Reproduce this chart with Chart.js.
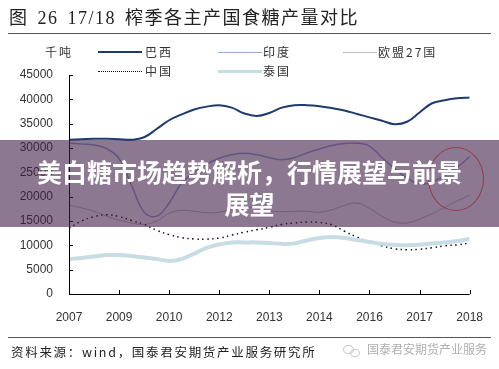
<!DOCTYPE html>
<html><head><meta charset="utf-8">
<script src="https://cdn.jsdelivr.net/npm/chart.js@4.4.1/dist/chart.umd.min.js"></script>
<style>
html,body{margin:0;padding:0;background:#fff;}
#wrap{position:relative;width:499px;height:369px;overflow:hidden;background:#fff;font-family:"Liberation Serif","Noto Sans CJK SC",serif;}
canvas{position:absolute;left:0;top:0;}
.abs{position:absolute;white-space:nowrap;}
#title{left:9px;top:3px;font-size:18px;color:#222;letter-spacing:1.5px;word-spacing:3px;}
.hr{position:absolute;left:8px;width:483px;height:1px;background:#555;}
.leg{font-size:12px;color:#333;letter-spacing:2px;font-family:"Noto Sans CJK SC",sans-serif;}
.sw{position:absolute;width:44px;height:0;}
#src{left:11px;top:342px;font-size:12.5px;color:#222;letter-spacing:1.7px;font-family:"Noto Sans CJK SC",sans-serif;}
#wm{left:367px;top:340px;font-size:12px;color:#b0b0b0;font-family:"Noto Sans CJK SC",sans-serif;}
#band{position:absolute;left:0;top:140px;width:499px;height:87px;background:rgba(63,30,70,0.6);}
#bandtxt{position:absolute;left:0;top:155px;width:499px;text-align:center;color:#fff;font-weight:bold;font-size:25px;line-height:32px;font-family:"Noto Sans CJK SC",sans-serif;}
#ring{position:absolute;left:428px;top:147px;width:54px;height:62px;border:1px solid rgba(150,40,60,0.75);border-radius:50%;}
</style></head>
<body>
<div id="wrap">
<canvas id="c" width="499" height="369"></canvas>
<div id="title" class="abs">图 26 17/18 榨季各主产国食糖产量对比</div>
<div class="hr" style="top:33px"></div>
<div class="abs leg" style="left:45px;top:43px">千吨</div>
<div class="sw" style="left:98px;top:51px;border-top:2.5px solid #1f3a6e"></div>
<div class="abs leg" style="left:145px;top:43px">巴西</div>
<div class="sw" style="left:218px;top:52px;border-top:1.5px solid #9aa8d8"></div>
<div class="abs leg" style="left:263px;top:43px">印度</div>
<div class="sw" style="left:343px;top:52px;width:34px;border-top:1px solid #bdbdbd"></div>
<div class="abs leg" style="left:378px;top:43px">欧盟27国</div>
<div class="sw" style="left:98px;top:71px;border-top:1.5px dotted #111"></div>
<div class="abs leg" style="left:145px;top:62px">中国</div>
<div class="sw" style="left:218px;top:70px;border-top:3px solid #c8dce4"></div>
<div class="abs leg" style="left:263px;top:62px">泰国</div>
<div class="hr" style="top:337px"></div>
<div id="src" class="abs">资料来源：wind，国泰君安期货产业服务研究所</div>
<div class="abs" style="left:343px;top:345px;width:9px;height:7px;border:1px solid #c8c8c8;border-radius:50%"></div>
<div class="abs" style="left:350px;top:349px;width:8px;height:6px;border:1px solid #c8c8c8;border-radius:50%"></div>
<div id="wm" class="abs">国泰君安期货产业服务</div>
<div id="band"></div>
<div id="ring"></div>
<div id="bandtxt">美白糖市场趋势解析，行情展望与前景<br>展望</div>
</div>
<script>
const years = ['2007','2009','2010','2012','2013','2014','2016','2017','2018'];
const yTicks = [0,5000,10000,15000,20000,25000,30000,35000,40000,45000];
const xPos = [0,0.25,0.5,0.75,1,1.25,1.5,1.75,2,2.25,2.5,2.75,3,3.25,3.5,3.75,4,4.25,4.5,4.75,5,5.25,5.5,5.75,6,6.25,6.5,6.75,7,7.25,7.5,7.75,8];
const brazil = [31700,31800,31900,31900,31800,31700,32200,33900,35700,36900,37900,38500,38800,38300,37100,36600,37200,38300,38800,38800,38600,38200,37700,37000,36300,35600,34900,35400,37300,39200,39800,40200,40400];
const india = [31000,30800,30600,29900,27800,22300,16800,16000,18700,22800,25000,26700,27900,28600,28900,28600,28000,27600,28000,29000,29800,30500,30900,31000,30400,28000,25800,23800,22600,23000,24300,26000,28200];
const eu27 = [18300,17700,17000,16000,15200,14600,14300,15000,16600,17200,17000,16700,16800,17400,17900,17600,17100,16900,17000,17000,16800,17300,18200,18700,17600,16000,14800,14600,15400,16500,17800,19100,20300];
const china = [13500,15000,15900,16300,15900,15100,14300,13100,12200,11600,11300,11300,11500,12100,12700,13200,13700,14300,14600,14800,14700,14200,12900,11700,10700,9900,9300,9100,9200,9500,9900,10100,10500];
const thailand = [7200,7400,7700,8000,8000,7800,7500,7200,6800,7200,8300,9500,10200,10600,10600,10600,10500,10300,10400,11000,11500,11700,11500,11100,10700,10300,10100,10000,10100,10400,10600,10900,11300];

const pts = arr => arr.map((v,i)=>({x:xPos[i], y:v}));

const innerTicks = {
  id:'innerTicks',
  afterDraw(chart){
    const {ctx, chartArea:a, scales:{x, y}} = chart;
    ctx.save();
    ctx.strokeStyle = '#000'; ctx.lineWidth = 1;
    ctx.beginPath();
    ctx.moveTo(a.left+0.5, a.top); ctx.lineTo(a.left+0.5, a.bottom+0.5); ctx.lineTo(a.right, a.bottom+0.5);
    y.ticks.forEach(t=>{ const py=Math.round(y.getPixelForValue(t.value))+0.5; ctx.moveTo(a.left, py); ctx.lineTo(a.left+4, py); });
    x.ticks.forEach(t=>{ const px=Math.round(x.getPixelForValue(t.value))+0.5; ctx.moveTo(px, a.bottom); ctx.lineTo(px, a.bottom-4); });
    ctx.stroke();
    ctx.restore();
  }
};

new Chart(document.getElementById('c'), {
  type:'line',
  data:{ datasets:[
    {label:'泰国', data:pts(thailand), borderColor:'#c8dce4', borderWidth:4, tension:0.4, pointRadius:0},
    {label:'中国', data:pts(china), borderColor:'#111', borderWidth:1.5, borderDash:[1.5,3.5], tension:0.4, pointRadius:0},
    {label:'欧盟27国', data:pts(eu27), borderColor:'#bdbdbd', borderWidth:1, tension:0.4, pointRadius:0},
    {label:'印度', data:pts(india), borderColor:'#9aa8d8', borderWidth:1.5, tension:0.4, pointRadius:0},
    {label:'巴西', data:pts(brazil), borderColor:'#1f3a6e', borderWidth:2, tension:0.4, pointRadius:0}
  ]},
  options:{
    responsive:false, animation:false, devicePixelRatio:1,
    layout:{padding:{left:0, right:26, top:75, bottom:0}},
    plugins:{legend:{display:false}, tooltip:{enabled:false}},
    scales:{
      x:{type:'linear', min:0, max:8,
         afterFit(s){ s.height = 75; },
         afterBuildTicks(s){ s.ticks = years.map((_,i)=>({value:i})); },
         grid:{display:false, drawTicks:false}, border:{display:false},
         ticks:{padding:16, color:'#333', font:{family:'Liberation Sans, Arial, sans-serif', size:12}, callback:v=>years[v], maxRotation:0, autoSkip:false}},
      y:{min:0, max:45000,
         afterFit(s){ s.width = 69; },
         afterBuildTicks(s){ s.ticks = yTicks.map(v=>({value:v})); },
         grid:{display:false, drawTicks:false}, border:{display:false},
         ticks:{padding:16, color:'#333', font:{family:'Liberation Sans, Arial, sans-serif', size:12}, callback:v=>String(v)}}
    }
  },
  plugins:[innerTicks]
});
</script>
</body></html>
